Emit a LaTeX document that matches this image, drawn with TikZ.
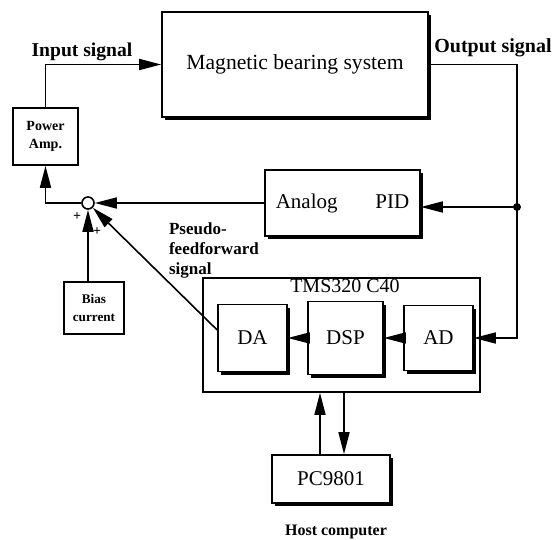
\documentclass[tikz,border=0pt]{standalone}
\usepackage{fontspec}
\setmainfont{Liberation Serif}
\usetikzlibrary{arrows.meta,shadows}

\tikzset{
	block/.style={draw,line width=0.8pt,fill=white,inner sep=1pt},
	shadowed/.style={block,drop shadow={shadow xshift=1.6pt,shadow yshift=-1.6pt,fill=black,opacity=1}},
	arr/.style={line width=0.8pt,-{Triangle[length=11pt,width=5.5pt]}},
	wire/.style={line width=0.8pt},
	tag/.style={font=\bfseries\fontsize{9.8}{10}\selectfont}
}

\begin{document}
\begin{tikzpicture}[x=0.5pt,y=-0.5pt]
	\useasboundingbox (0,0) rectangle (553,540);
	% plant and the analog loop
	\node[shadowed,minimum width=133pt,minimum height=52.5pt,font=\fontsize{10.8}{12}\selectfont] (mag) at (295,64.5) {Magnetic bearing system};
	\node[block,minimum width=32.5pt,minimum height=28.5pt,align=center,font=\bfseries\fontsize{7}{9}\selectfont] (amp) at (45.5,136.5) {Power\\Amp.};
	\node[shadowed,minimum width=77.5pt,minimum height=33pt,font=\fontsize{10.5}{12}\selectfont] (pid) at (342.5,203) {Analog\hspace{1.8em}PID};
	\node[draw,circle,line width=0.8pt,minimum size=6pt,inner sep=0pt] (sum) at (88,203) {};
	\node[block,minimum width=30pt,minimum height=26pt,align=center,font=\bfseries\fontsize{6.6}{9}\selectfont] (bias) at (94,308) {Bias\\current};
	% DSP board
	\node[block,minimum width=138.5pt,minimum height=57pt] (tms) at (341.5,335) {};
	\node[font=\fontsize{10}{12}\selectfont] (tmslabel) at (345,286) {TMS320 C40};
	\node[shadowed,minimum width=34.5pt,minimum height=33.5pt,font=\fontsize{10.5}{12}\selectfont] (da) at (252.5,338) {DA};
	\node[shadowed,minimum width=37.5pt,minimum height=36.5pt,font=\fontsize{10.5}{12}\selectfont] (dsp) at (345.5,338) {DSP};
	\node[shadowed,minimum width=34.5pt,minimum height=32.5pt,font=\fontsize{10.5}{12}\selectfont] (ad) at (438.5,338) {AD};
	\node[shadowed,minimum width=59pt,minimum height=24pt,font=\fontsize{10.5}{12}\selectfont] (pc) at (331,479) {PC9801};
	% labels
	\node[tag] (insig) at (82,52) {Input signal};
	\node[tag,font=\bfseries\fontsize{10}{12}\selectfont] (outsig) at (493,48) {Output signal};
	\node[tag,anchor=north west,align=left,font=\bfseries\fontsize{8.5}{10}\selectfont] (pseudo) at (162,216) {Pseudo-\\feedforward\\signal};
	\node[tag,font=\bfseries\fontsize{8}{10}\selectfont] (host) at (336,532) {Host computer};
	\node[font=\bfseries\fontsize{7}{8}\selectfont] (plusa) at (77,217) {+};
	\node[font=\bfseries\fontsize{7}{8}\selectfont] (plusb) at (97,232) {+};
	% connections
	\coordinate (tap) at (517,207);
	\draw[arr] (amp.north) |- (mag.west);
	\draw[arr] (sum.west) -| (amp.south);
	\draw[arr] (pid.west) -- (sum.east);
	\draw[wire] (mag.east) -| (tap);
	\draw[arr] (tap) -- (pid.east |- tap);
	\draw[arr] (tap) |- (ad.east);
	\fill (tap) circle (2pt);
	\draw[arr] (sum |- bias.north) -- (sum.south);
	\draw[arr] ([yshift=4pt]da.west) -- (sum);
	\draw[arr] (ad.west) -- (dsp.east);
	\draw[arr] (dsp.west) -- (da.east);
	\draw[arr] ([xshift=-5.5pt]pc.north) -- ([xshift=-5.5pt]pc.north |- tms.south);
	\draw[arr] ([xshift=6.5pt]pc.north |- tms.south) -- ([xshift=6.5pt]pc.north);
\end{tikzpicture}
\end{document}
